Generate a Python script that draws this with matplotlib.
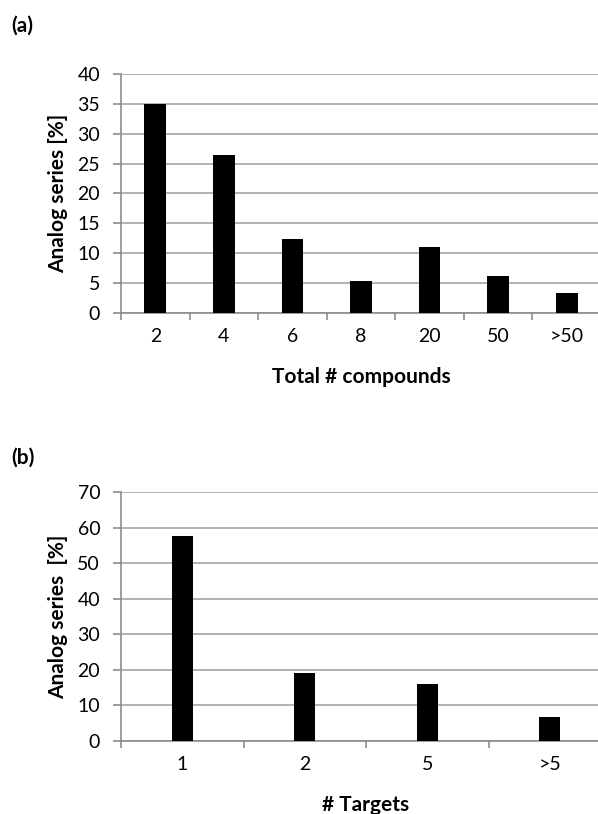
import matplotlib
matplotlib.use('Agg')
import matplotlib.pyplot as plt
import numpy as np

plt.rcParams['font.family'] = ['Lato', 'DejaVu Sans']

# panel (a): share of analog series by total number of compounds
compound_bins = ['2', '4', '6', '8', '20', '50', '>50']
compound_pct = [35.0, 26.5, 12.35, 5.3, 10.95, 6.15, 3.3]

# panel (b): share of analog series by number of targets
target_bins = ['1', '2', '5', '>5']
target_pct = [57.8, 19.1, 16.1, 6.8]

W, H = 598, 814
fig = plt.figure(figsize=(W / 100, H / 100), dpi=100)

grid_col = '#a6a6a6'
spine_col = '#8c8c8c'


def make_panel(rect, cats, vals, bar_w, ymax, ystep, xlabel, ylabel, tag, tag_y):
    left, top, right, bottom = rect
    ax = fig.add_axes([left / W, 1 - bottom / H, (right - left) / W, (bottom - top) / H])
    x = np.arange(len(cats))
    ax.bar(x, vals, width=bar_w, color='black', zorder=3)
    ax.set_xlim(-0.5, len(cats) - 0.5)
    ax.set_ylim(0, ymax)
    ax.set_yticks(np.arange(0, ymax + 1, ystep))
    ax.yaxis.grid(True, color=grid_col, linewidth=1.2, zorder=0)
    ax.set_axisbelow(True)
    for s in ['top', 'right']:
        ax.spines[s].set_visible(False)
    ax.spines['left'].set_color(spine_col)
    ax.spines['bottom'].set_color(spine_col)
    ax.spines['left'].set_linewidth(1.2)
    ax.spines['bottom'].set_linewidth(1.2)

    # category labels at centres, tick marks at the boundaries
    ax.set_xticks(x)
    ax.set_xticklabels(cats)
    ax.set_xticks(np.arange(-0.5, len(cats)), minor=True)
    ax.tick_params(axis='x', which='major', length=0, pad=11, labelsize=14)
    ax.tick_params(axis='x', which='minor', length=5, width=1.2, color=spine_col, direction='out')
    ax.tick_params(axis='y', length=6, width=1.2, color=spine_col, pad=9, labelsize=14)

    ax.set_xlabel(xlabel, fontsize=15, fontweight='bold')
    ax.xaxis.label.set_va('center')
    ax.xaxis.set_label_coords(0.5, -64 / (bottom - top))
    ax.set_ylabel(ylabel, fontsize=15, fontweight='bold')
    ax.yaxis.label.set_va('center')
    ax.yaxis.set_label_coords(-63 / (right - left), 0.5)

    fig.text(11 / W, 1 - tag_y / H, tag, fontsize=15, fontweight='bold', va='center', ha='left')
    return ax


make_panel((121, 74, 601, 312.7), compound_bins, compound_pct, 0.316, 40, 5,
           'Total # compounds', 'Analog series [%]', '(a)', 26)
make_panel((121, 492.3, 611, 741), target_bins, target_pct, 0.175, 70, 10,
           '# Targets', 'Analog series  [%]', '(b)', 458)

fig.savefig('out.png', dpi=100)
